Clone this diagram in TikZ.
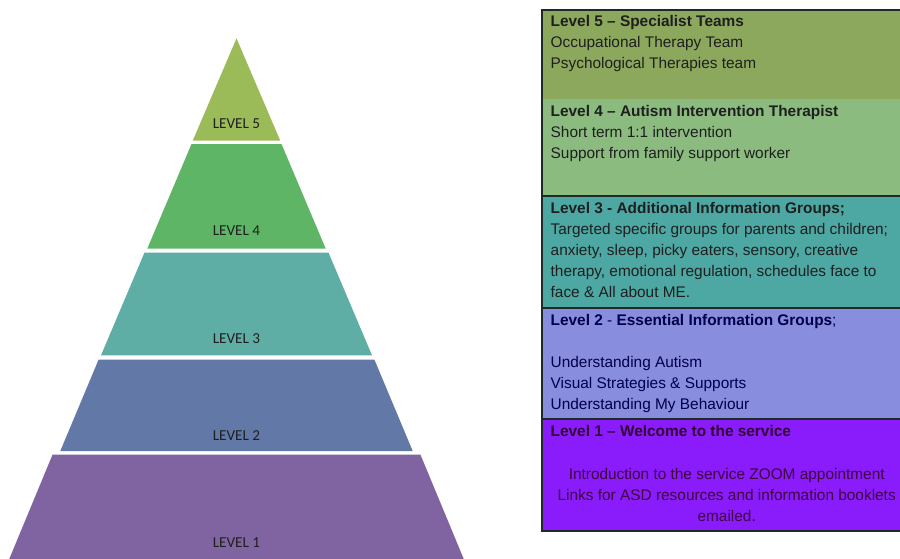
\documentclass[tikz,border=0pt]{standalone}
\usepackage{fontspec}
\setmainfont{Liberation Sans}
\newfontfamily\pyrfont{Carlito}
\usetikzlibrary{positioning}

\definecolor{pyrfive}{HTML}{9BBB59}
\definecolor{pyrfour}{HTML}{5EB565}
\definecolor{pyrthree}{HTML}{5EAEA6}
\definecolor{pyrtwo}{HTML}{6279A8}
\definecolor{pyrone}{HTML}{8064A2}
\definecolor{boxfive}{HTML}{8BA85C}
\definecolor{boxfour}{HTML}{8CBB80}
\definecolor{boxthree}{HTML}{4DA7A3}
\definecolor{boxtwo}{HTML}{898DDD}
\definecolor{boxone}{HTML}{8A1CFB}
\definecolor{ruleline}{HTML}{1E2A2A}

\begin{document}
\begin{tikzpicture}[x=1pt,y=-1pt,
		lvl/.style={font=\pyrfont\fontsize{15.2}{16}\selectfont,text=black!88},
		tier/.style={rectangle,draw=none,anchor=north west,inner sep=0pt,minimum width=372pt},
		info/.style={anchor=base west,align=left,inner sep=0pt,font=\fontsize{15.4}{21}\selectfont,text=black!88},
		rule/.style={draw=ruleline,line width=2pt}]
		\useasboundingbox (0,0) rectangle (900,558);
		% pyramid
		\fill[pyrfive] (236.5,38.4) -- (280.2,140.5) -- (192.8,140.5) -- cycle;
		\fill[pyrfour] (191.5,144) -- (281.5,144) -- (325.7,248.6) -- (147.3,248.6) -- cycle;
		\fill[pyrthree] (144.5,252.6) -- (328.5,252.6) -- (372,355.3) -- (101,355.3) -- cycle;
		\fill[pyrtwo] (98.6,359.6) -- (374.4,359.6) -- (412.7,451) -- (60.3,451) -- cycle;
		\fill[pyrone] (52.6,454.5) -- (420.4,454.5) -- (465,562) -- (8,562) -- cycle;
		\node[lvl] (p5) at (236.5,124) {LEVEL 5};
		\node[lvl] (p4) at (236.5,231) {LEVEL 4};
		\node[lvl] (p3) at (236.5,339) {LEVEL 3};
		\node[lvl] (p2) at (236.5,436) {LEVEL 2};
		\node[lvl] (p1) at (236.5,543) {LEVEL 1};
		% boxes
		\node[tier,fill=boxfive,minimum height=89.5pt] (b5) at (541.7,9.5) {};
		\node[tier,fill=boxfour,minimum height=97pt] (b4) at (541.7,99) {};
		\node[tier,fill=boxthree,minimum height=112pt] (b3) at (541.7,196) {};
		\node[tier,fill=boxtwo,minimum height=111pt] (b2) at (541.7,308) {};
		\node[tier,fill=boxone,minimum height=112pt] (b1) at (541.7,419) {};
		\draw[rule] (b4.south west) -- (b4.south east);
		\draw[rule] (b3.south west) -- (b3.south east);
		\draw[rule] (b2.south west) -- (b2.south east);
		\draw[rule] (b5.north west) rectangle (b1.south east);
		% texts, base = last line
		\node[info] (t5) at (550.5,68.5) {\textbf{Level 5 – Specialist Teams}\\Occupational Therapy Team\\Psychological Therapies team};
		\node[info] (t4) at (550.5,158) {\textbf{Level 4 – Autism Intervention Therapist}\\Short term 1:1 intervention\\Support from family support worker};
		\node[info] (t3) at (550.5,297.5) {\textbf{Level 3 - Additional Information Groups;}\\Targeted specific groups for parents and children;\\anxiety, sleep, picky eaters, sensory, creative\\therapy, emotional regulation, schedules face to\\face \& All about ME.};
		\node[info,text=blue!30!black] (t2) at (550.5,409) {\textbf{Level 2} - \textbf{Essential Information Groups};\\[21pt]Understanding Autism\\Visual Strategies \& Supports\\Understanding My Behaviour};
		\node[info,text=violet!40!black] (t1) at (550.5,436) {\textbf{Level 1 – Welcome to the service}};
		\node[info,anchor=base,align=center,text=violet!50!black] (t1b) at (726.7,521) {Introduction to the service ZOOM appointment\\Links for ASD resources and information booklets\\emailed.};
	\end{tikzpicture}
\end{document}
